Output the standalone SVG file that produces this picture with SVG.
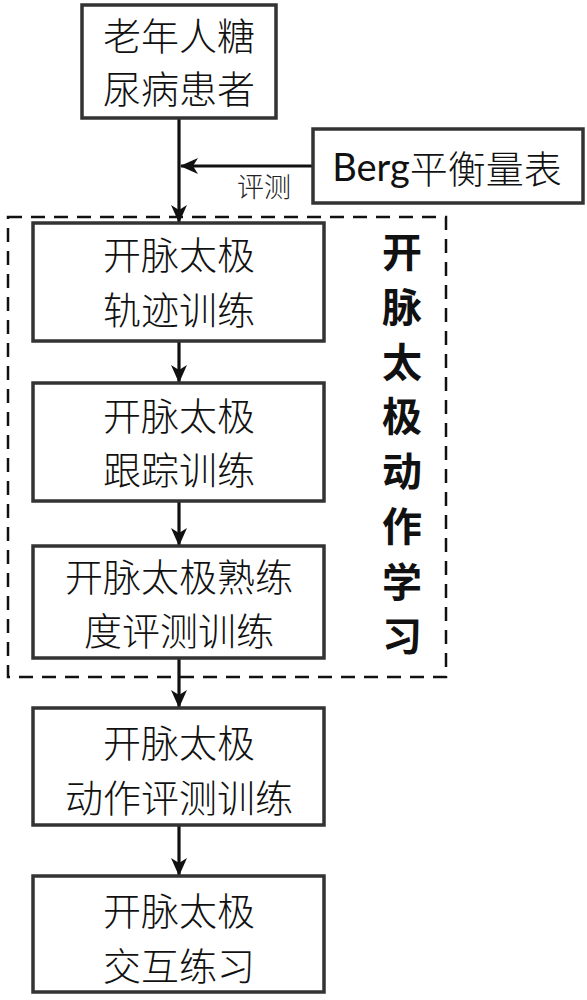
<svg xmlns="http://www.w3.org/2000/svg" width="587" height="1000" viewBox="0 0 587 1000">
<style>
.box{fill:#fff;stroke:#333;stroke-width:3.5}
.t{font-family:"Noto Sans CJK SC","Noto Sans",sans-serif;font-size:38px;font-weight:300;fill:#111;text-anchor:middle;dominant-baseline:central}
.c{stroke:#111;stroke-width:3.2;fill:none}
.v{font-family:"Noto Sans CJK SC",sans-serif;font-size:40px;font-weight:bold;fill:#111;text-anchor:middle;dominant-baseline:central}
</style>
<defs>
<marker id="ah" viewBox="0 0 18 16" refX="17" refY="8" markerWidth="18" markerHeight="16" markerUnits="userSpaceOnUse" orient="auto">
<path d="M0,0 L18,8 L0,16 L5,8 Z" fill="#111"/>
</marker>
</defs>
<g id="connectors">
<line class="c" x1="179" y1="118" x2="179" y2="222" marker-end="url(#ah)"/>
<line class="c" x1="313" y1="166" x2="181" y2="166" marker-end="url(#ah)"/>
<line class="c" x1="179" y1="341" x2="179" y2="382" marker-end="url(#ah)"/>
<line class="c" x1="179" y1="501" x2="179" y2="545" marker-end="url(#ah)"/>
<line class="c" x1="179" y1="658" x2="179" y2="707" marker-end="url(#ah)"/>
<line class="c" x1="179" y1="825" x2="179" y2="875" marker-end="url(#ah)"/>
<text x="264" y="185" style="font-family:'Noto Sans CJK SC',sans-serif;font-size:27px;font-weight:300;fill:#222;text-anchor:middle;dominant-baseline:central">评测</text>
</g>
<g id="group-learning">
<rect x="8" y="217" width="438" height="460" fill="none" stroke="#111" stroke-width="2.5" stroke-dasharray="14,9"/>
<text class="v" x="402" y="250">开</text>
<text class="v" x="402" y="305">脉</text>
<text class="v" x="402" y="360">太</text>
<text class="v" x="402" y="414">极</text>
<text class="v" x="402" y="469">动</text>
<text class="v" x="402" y="524">作</text>
<text class="v" x="402" y="580">学</text>
<text class="v" x="402" y="634">习</text>
</g>
<g id="n1">
<rect class="box" x="82" y="5" width="194" height="113"/>
<text class="t" x="179" y="33">老年人糖</text>
<text class="t" x="179" y="86">尿病患者</text>
</g>
<g id="n-berg">
<rect class="box" x="313" y="129" width="270" height="74"/>
<text x="447" y="166" style="font-family:Lato,'Noto Sans CJK SC',sans-serif;font-size:38px;fill:#111;text-anchor:middle;dominant-baseline:central">Berg<tspan style="font-family:'Noto Sans CJK SC',sans-serif;font-weight:300">平衡量表</tspan></text>
</g>
<g id="n2">
<rect class="box" x="33" y="223" width="291" height="118"/>
<text class="t" x="179" y="252">开脉太极</text>
<text class="t" x="179" y="307">轨迹训练</text>
</g>
<g id="n3">
<rect class="box" x="33" y="383" width="291" height="118"/>
<text class="t" x="179" y="413">开脉太极</text>
<text class="t" x="179" y="467">跟踪训练</text>
</g>
<g id="n4">
<rect class="box" x="33" y="546" width="291" height="112"/>
<text class="t" x="179" y="574">开脉太极熟练</text>
<text class="t" x="179" y="628">度评测训练</text>
</g>
<g id="n5">
<rect class="box" x="33" y="708" width="291" height="117"/>
<text class="t" x="179" y="740">开脉太极</text>
<text class="t" x="179" y="795">动作评测训练</text>
</g>
<g id="n6">
<rect class="box" x="33" y="876" width="291" height="116"/>
<text class="t" x="179" y="908">开脉太极</text>
<text class="t" x="179" y="963">交互练习</text>
</g>
</svg>
